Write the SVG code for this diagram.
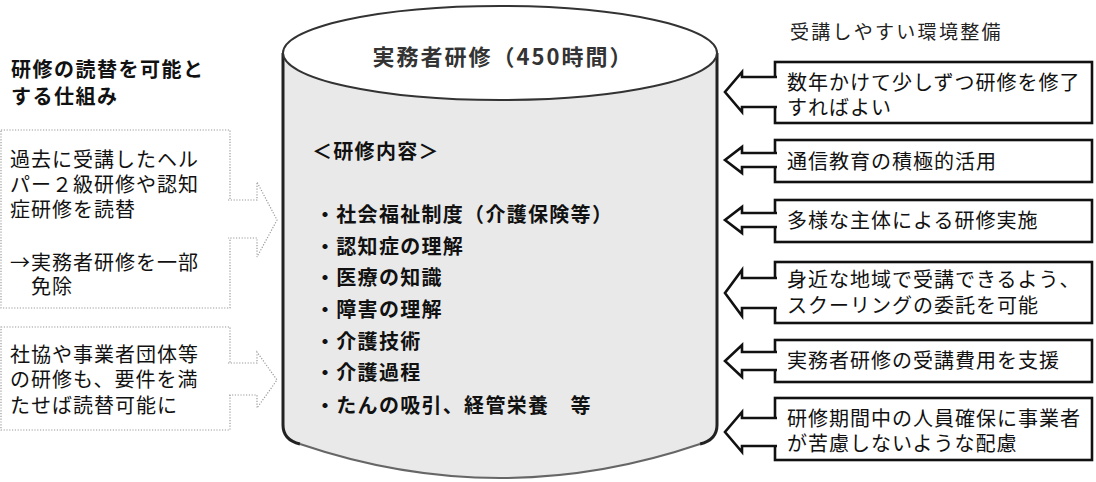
<svg xmlns="http://www.w3.org/2000/svg" width="1096" height="482" viewBox="0 0 1096 482">
<style>
text{font-family:"Noto Sans CJK JP","Noto Sans CJK SC",sans-serif;fill:#111;}
.t{font-size:20px;letter-spacing:1px;}
.hd{font-size:20px;font-weight:bold;letter-spacing:1.5px;}
.rh{font-size:19px;letter-spacing:2.3px;fill:#222;}
.li{font-size:20px;font-weight:bold;letter-spacing:1.3px;}
.ttl{font-size:22px;font-weight:bold;letter-spacing:2px;fill:#333;}
.rb{fill:#fff;stroke:#111;stroke-width:2.6;}
.ra{fill:#fff;stroke:#111;stroke-width:2.6;stroke-linejoin:miter;}
.lb{fill:#fff;stroke:#9a9a9a;stroke-width:1.2;stroke-dasharray:1.2 1.6;}
.la{fill:#fff;stroke:#9a9a9a;stroke-width:1.2;stroke-dasharray:1.2 1.6;}
</style>

<g id="cylinder">
  <path d="M283,53 V425 Q283,440 300,444 Q500,512 700,444 Q717,440 717,425 V53 Z" fill="#e9e9e9" stroke="none"/>
  <path d="M283,53 V425 Q283,440 300,444" fill="none" stroke="#222" stroke-width="3"/>
  <path d="M717,53 V425 Q717,440 700,444" fill="none" stroke="#222" stroke-width="3"/>
  <path d="M300,444 Q500,512 700,444" fill="none" stroke="#666" stroke-width="2"/>
  <ellipse cx="500" cy="53" rx="217" ry="47" fill="#fff" stroke="#333" stroke-width="2"/>
  <text class="ttl" x="503" y="65" text-anchor="middle">実務者研修（450時間）</text>
  <text class="li" x="312" y="159">＜研修内容＞</text>
  <text class="li" x="315" y="222">・社会福祉制度（介護保険等）</text>
  <text class="li" x="315" y="254">・認知症の理解</text>
  <text class="li" x="315" y="285">・医療の知識</text>
  <text class="li" x="315" y="317">・障害の理解</text>
  <text class="li" x="315" y="349">・介護技術</text>
  <text class="li" x="315" y="380">・介護過程</text>
  <text class="li" x="315" y="413">・たんの吸引、経管栄養　等</text>
</g>

<g id="left-heading">
  <text class="hd" x="11" y="77">研修の読替を可能と</text>
  <text class="hd" x="11" y="104">する仕組み</text>
</g>

<g id="left-box-1">
  <rect class="lb" x="1" y="130" width="229" height="178"/>
  <text class="t" x="10" y="167">過去に受講したヘル</text>
  <text class="t" x="10" y="192">パー２級研修や認知</text>
  <text class="t" x="10" y="217">症研修を読替</text>
  <text class="t" x="10" y="270">→実務者研修を一部</text>
  <text class="t" x="31" y="294">免除</text>
</g>

<g id="left-box-2">
  <rect class="lb" x="1" y="327" width="229" height="103"/>
  <text class="t" x="10" y="362">社協や事業者団体等</text>
  <text class="t" x="10" y="387">の研修も、要件を満</text>
  <text class="t" x="10" y="413">たせば読替可能に</text>
</g>

<g id="right-heading">
  <text class="rh" x="790" y="39">受講しやすい環境整備</text>
</g>

<g id="right-box-1">
  <rect class="rb" x="775" y="62" width="317" height="61"/>
  <text class="t" x="787" y="90">数年かけて少しずつ研修を修了</text>
  <text class="t" x="787" y="115">すればよい</text>
</g>
<g id="right-box-2">
  <rect class="rb" x="775" y="140" width="317" height="42"/>
  <text class="t" x="787" y="169">通信教育の積極的活用</text>
</g>
<g id="right-box-3">
  <rect class="rb" x="775" y="200" width="317" height="42"/>
  <text class="t" x="787" y="228">多様な主体による研修実施</text>
</g>
<g id="right-box-4">
  <rect class="rb" x="775" y="262" width="317" height="61"/>
  <text class="t" x="787" y="287">身近な地域で受講できるよう、</text>
  <text class="t" x="787" y="313">スクーリングの委託を可能</text>
</g>
<g id="right-box-5">
  <rect class="rb" x="775" y="340" width="317" height="42"/>
  <text class="t" x="787" y="368">実務者研修の受講費用を支援</text>
</g>
<g id="right-box-6">
  <rect class="rb" x="775" y="398" width="317" height="62"/>
  <text class="t" x="787" y="426">研修期間中の人員確保に事業者</text>
  <text class="t" x="787" y="451">が苦慮しないような配慮</text>
</g>

<g id="connectors">
  <path class="la" d="M228,200 H257 V182 L277,220 L257,257 V238 H228"/>
  <path class="la" d="M228,363 H257 V352 L277,380 L257,408 V395 H228"/>
  <path class="ra" d="M777,77 H742 V72 L725,92 L742,112 V107 H777"/>
  <path class="ra" d="M777,153 H742 V147 L725,160 L742,173 V167 H777"/>
  <path class="ra" d="M777,213 H742 V207 L725,220 L742,233 V227 H777"/>
  <path class="ra" d="M777,278 H742 V270 L725,293 L742,316 V308 H777"/>
  <path class="ra" d="M777,352 H742 V345 L725,361 L742,377 V370 H777"/>
  <path class="ra" d="M777,418 H742 V412 L725,432 L742,452 V446 H777"/>
</g>
</svg>
